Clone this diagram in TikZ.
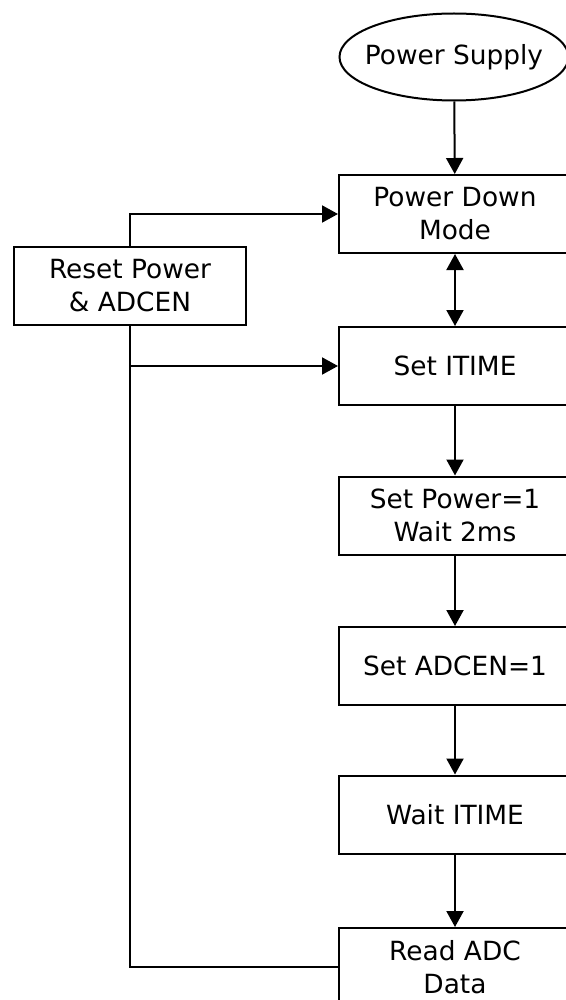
\documentclass[tikz,border=0pt]{standalone}
\usepackage{fontspec}
\setmainfont{DejaVu Sans}
\usetikzlibrary{shapes.geometric, positioning, arrows.meta}
\tikzset{
    flow box/.style = {draw, line width=1pt, minimum width=116pt, minimum height=39pt,
        align=center, inner sep=0pt, font=\fontsize{13.2}{16.5}\selectfont},
    flow start/.style = {draw, ellipse, line width=1pt, minimum width=114.5pt, minimum height=43.5pt,
        inner xsep=-4.3pt, inner ysep=0pt, font=\fontsize{13.2}{16.5}\selectfont},
    flow line/.style = {draw, line width=1pt, -{Triangle[length=8pt, width=8.5pt]}},
}

\begin{document}
\begin{tikzpicture}[x=0.5pt, y=-0.5pt]
                \useasboundingbox (0, 0) rectangle (566, 1000);
                \node[flow start] (supply) at (454, 57) {Power Supply};
                \node[flow box] (pdown) at (455, 214) {Power Down\\Mode};
                \node[flow box] (reset) at (130, 286) {Reset Power\\\& ADCEN};
                \node[flow box] (itime) at (455, 366) {Set ITIME};
                \node[flow box] (power) at (455, 515.5) {Set Power=1\\Wait 2ms};
                \node[flow box] (adcen) at (455, 666) {Set ADCEN=1};
                \node[flow box] (wait) at (455, 814.5) {Wait ITIME};
                \node[flow box] (read) at (455, 967) {Read ADC\\Data};
                \coordinate (branch) at (reset.south |- itime.west);

                \draw[flow line] (supply) -- (pdown);
                \draw[flow line, {Triangle[length=8pt, width=8.5pt]}-{Triangle[length=8pt, width=8.5pt]}] (pdown) -- (itime);
                \draw[flow line] (itime) -- (power);
                \draw[flow line] (power) -- (adcen);
                \draw[flow line] (adcen) -- (wait);
                \draw[flow line] (wait) -- (read);
                \draw[flow line] (reset.north) |- (pdown.west);
                \draw[line width=1pt] (reset.south) |- (read.west);
                \draw[flow line] (branch) -- (itime.west);
            \end{tikzpicture}
\end{document}
